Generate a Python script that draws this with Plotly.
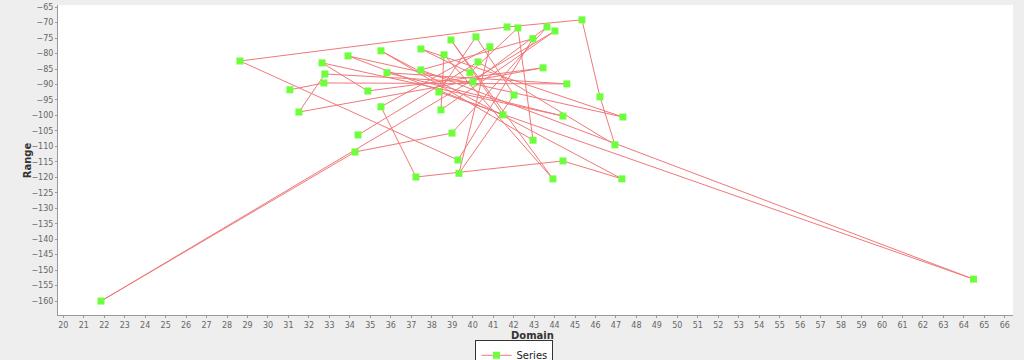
import plotly.graph_objects as go

# points in drawing order (x = Domain, y = Range)
dom = [31.07, 32.73, 44.60, 35.81, 44.41, 32.64, 34.88, 43.44, 31.51, 32.78,
       40.01, 43.63, 38.99, 34.25, 21.84, 44.02, 38.45, 38.60, 43.92, 38.94,
       41.48, 33.91, 47.34, 37.47, 39.87, 42.21, 42.95, 35.52, 47.29, 44.41,
       37.23, 35.52, 40.84, 39.33, 42.02, 40.16, 38.35, 64.47, 37.47, 42.94,
       39.28, 28.63, 41.68, 45.34, 46.22, 46.95, 40.26, 34.40]
rng = [-91.7, -89.5, -89.8, -86.2, -100.2, -83.0, -92.1, -84.6, -98.9, -86.6,
       -89.2, -71.4, -105.7, -111.8, -160.0, -72.7, -98.2, -80.4, -120.5, -75.6,
       -99.8, -80.75, -100.5, -78.5, -86.2, -71.7, -108.0, -79.1, -120.5, -114.7,
       -119.9, -97.2, -77.8, -118.7, -93.4, -74.6, -92.4, -152.9, -85.3, -75.2,
       -114.4, -82.4, -71.4, -69.1, -94.0, -109.5, -82.7, -106.3]

fig = go.Figure()
fig.add_trace(go.Scatter(
    x=dom, y=rng, mode="lines+markers", name="Series",
    line=dict(color="rgb(240,120,120)", width=1),
    marker=dict(symbol="square", size=7, color="rgb(110,255,60)",
                line=dict(width=0)),
))

fig.update_layout(
    width=1024, height=360,
    margin=dict(l=58, r=11, t=5, b=45, autoexpand=False),
    paper_bgcolor="#eeeeee",
    plot_bgcolor="white",
    font=dict(family="DejaVu Sans", size=9, color="#444444"),
    showlegend=True,
    legend=dict(orientation="h", x=0.478, xanchor="center", y=-0.08,
                yanchor="top", bgcolor="white", bordercolor="#333333",
                borderwidth=1, font=dict(size=10, color="#222222"),
                itemwidth=30, tracegroupgap=0),
    xaxis=dict(range=[19.74, 66.4], dtick=1, tick0=20, showgrid=False,
               zeroline=False, showline=True, linecolor="#999999",
               ticks="outside", ticklen=2, tickcolor="#999999",
               tickfont=dict(size=8, color="#666666")),
    yaxis=dict(range=[-164.5, -64.3], dtick=5, tick0=-65, showgrid=False,
               zeroline=False, showline=True, linecolor="#999999",
               ticks="outside", ticklen=2, tickcolor="#999999",
               tickfont=dict(size=8, color="#666666")),
    annotations=[
        dict(text="<b>Domain</b>", x=0.497, y=-0.041, xref="paper",
             yref="paper", showarrow=False, yanchor="top",
             font=dict(size=10, color="#333333")),
        dict(text="<b>Range</b>", x=-0.04, y=0.5, xref="paper", yref="paper",
             showarrow=False, textangle=-90,
             font=dict(size=10, color="#333333")),
    ],
)

# the page's default body margin would push the figure 8px off
fig.write_html("out.html", config={"displayModeBar": False},
               post_script="document.body.style.margin='0px';")
